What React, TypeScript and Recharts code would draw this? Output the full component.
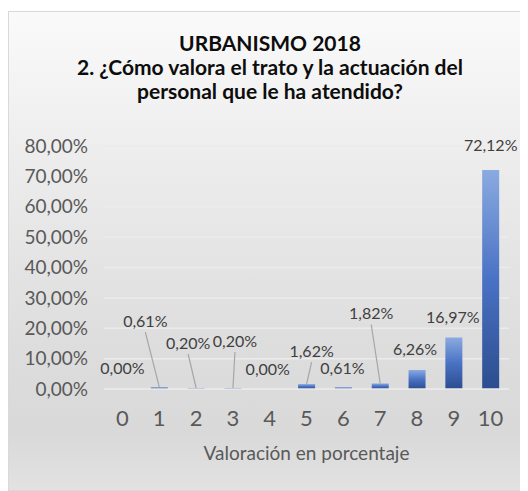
import { BarChart, Bar, XAxis, YAxis, CartesianGrid, LabelList, Rectangle } from 'recharts';

const categories = ['0', '1', '2', '3', '4', '5', '6', '7', '8', '9', '10'];
const percentages = [0, 0.61, 0.2, 0.2, 0, 1.62, 0.61, 1.82, 6.26, 16.97, 72.12];
const yTicks = [0, 10, 20, 30, 40, 50, 60, 70, 80];

const data = categories.map((c, i) => ({ name: c, value: percentages[i], idx: i }));

// label offsets (dx, dy from top of bar) and whether a leader line is drawn
const labelPlacement: { dx: number; dy: number; leader?: boolean }[] = [
  { dx: 0, dy: -22 },
  { dx: -14, dy: -67, leader: true },
  { dx: -8, dy: -46, leader: true },
  { dx: 2, dy: -48, leader: true },
  { dx: -2, dy: -21 },
  { dx: 5, dy: -34, leader: true },
  { dx: -1, dy: -20 },
  { dx: -9, dy: -71, leader: true },
  { dx: -2, dy: -21 },
  { dx: -1, dy: -21 },
  { dx: 0, dy: -25 },
];

const fmt = (v: number) => `${v.toFixed(2).replace('.', ',')}%`;

const renderLabel = (props: any) => {
  const { x, y, width, height, value } = props;
  const i = Number(value);
  const p = labelPlacement[i] || { dx: 0, dy: -20 };
  const cx = Number(x) + Number(width) / 2;
  // top of bar, ignoring the 1px minimum used for zero values
  const top = percentages[i] === 0 ? Number(y) + Number(height) : Number(y);
  const lx = cx + p.dx;
  const ly = top + p.dy;
  return (
    <g>
      {p.leader && (
        <line x1={lx} y1={ly + 12} x2={cx} y2={top} stroke="#a6a6a6" strokeWidth={1.2} />
      )}
      <text x={lx} y={ly} textAnchor="middle" dominantBaseline="central" fill="#404040" fontSize={16} fontFamily="Lato">
        {fmt(percentages[i])}
      </text>
    </g>
  );
};

const renderBar = (props: any) => {
  if (!props.value && props.payload?.value === 0) return <g />;
  if (props.payload && props.payload.value === 0) return <g />;
  return <Rectangle {...props} />;
};

export default function App() {
  return (
    <div
      style={{
        position: 'relative',
        marginTop: 3,
        width: 520,
        height: 480,
        boxSizing: 'border-box',
        border: '1px solid #d9d9d9',
        background: 'linear-gradient(to bottom, #fafafa 0%, #ededed 30%, #dddddd 70%, #d9d9d9 88%, #e2e2e2 100%)',
        fontFamily: 'Lato',
        overflow: 'hidden',
      }}
    >
      <div
        style={{
          position: 'absolute',
          left: 0,
          top: 19,
          width: 522,
          textAlign: 'center',
          fontWeight: 'bold',
          fontSize: 21,
          lineHeight: '24px',
          color: '#0d0d0d',
        }}
      >
        URBANISMO 2018
        <br />
        2. ¿Cómo valora el trato y la actuación del
        <br />
        personal que le ha atendido?
      </div>
      <BarChart
        width={518}
        height={478}
        data={data}
        margin={{ top: 134, right: 18, left: 0, bottom: 21 }}
        barCategoryGap="0%"
      >
        <defs>
          <linearGradient id="barGrad" x1="0" y1="0" x2="0" y2="1">
            <stop offset="0%" stopColor="#8aaae0" />
            <stop offset="50%" stopColor="#4a72c4" />
            <stop offset="100%" stopColor="#2c4d8e" />
          </linearGradient>
        </defs>
        <CartesianGrid vertical={false} stroke="#ebebeb" strokeWidth={1.5} />
        <XAxis
          dataKey="name"
          tickLine={false}
          axisLine={{ stroke: '#e8e8e8', strokeWidth: 1.5 }}
          tickSize={0}
          tickMargin={21}
          tick={{ fill: '#595959', fontSize: 22, fontFamily: 'Lato' }}
          height={80}
          interval={0}
          label={{ value: 'Valoración en porcentaje', position: 'insideBottom', offset: 9, fill: '#595959', fontSize: 19, fontFamily: 'Lato' }}
        />
        <YAxis
          domain={[0, 80]}
          ticks={yTicks}
          tickFormatter={fmt}
          axisLine={false}
          tickLine={false}
          tickSize={0}
          tickMargin={16}
          width={95}
          tick={{ fill: '#595959', fontSize: 19, fontFamily: 'Lato' }}
        />
        <Bar dataKey="value" fill="url(#barGrad)" barSize={17} minPointSize={1} shape={renderBar} isAnimationActive={false}>
          <LabelList dataKey="idx" content={renderLabel} />
        </Bar>
      </BarChart>
    </div>
  );
}
